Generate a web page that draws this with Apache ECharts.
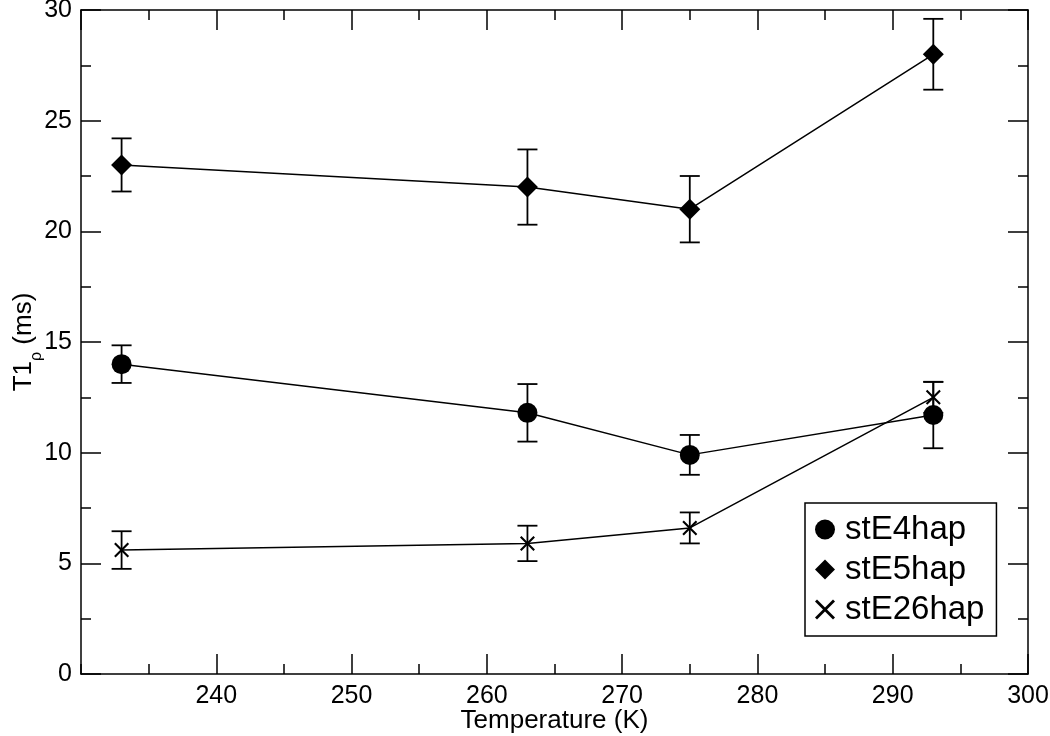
<!DOCTYPE html>
<html>
<head>
<meta charset="utf-8">
<script src="https://cdn.jsdelivr.net/npm/echarts@6/dist/echarts.min.js"></script>
<style>
html,body{margin:0;padding:0;background:#fff;}
#chart{width:1050px;height:736px;}
</style>
</head>
<body>
<div id="chart"></div>
<script>
// ---- data ----
var temperatures = [233, 263, 275, 293];
var seriesNames = ['stE4hap', 'stE5hap', 'stE26hap'];
var stE4hap = [14.0, 11.8, 9.9, 11.7];
var stE4hapErr = [0.85, 1.3, 0.9, 1.5];
var stE5hap = [23.0, 22.0, 21.0, 28.0];
var stE5hapErr = [1.2, 1.7, 1.5, 1.6];
var stE26hap = [5.6, 5.9, 6.6, 12.5];
var stE26hapErr = [0.85, 0.8, 0.7, 0.7];
var xTicks = [240, 250, 260, 270, 280, 290, 300];
var yTicks = [0, 5, 10, 15, 20, 25, 30];

var FONT = 'Liberation Sans, Arial, sans-serif';
var crossPath = 'path://M0,1 L1,0 L5,4 L9,0 L10,1 L6,5 L10,9 L9,10 L5,6 L1,10 L0,9 L4,5 Z';

function pairs(vals) { return temperatures.map(function (t, i) { return [t, vals[i]]; }); }
function errPairs(vals, errs) { return temperatures.map(function (t, i) { return [t, vals[i] - errs[i], vals[i] + errs[i]]; }); }

function errorSeries(vals, errs) {
  return {
    type: 'custom',
    z: 1,
    silent: true,
    data: errPairs(vals, errs),
    renderItem: function (params, api) {
      var lo = api.coord([api.value(0), api.value(1)]);
      var hi = api.coord([api.value(0), api.value(2)]);
      var hw = 10;
      var st = { stroke: '#000', lineWidth: 1.8 };
      return {
        type: 'group',
        children: [
          { type: 'line', shape: { x1: lo[0], y1: lo[1], x2: hi[0], y2: hi[1] }, style: st },
          { type: 'line', shape: { x1: lo[0] - hw, y1: lo[1], x2: lo[0] + hw, y2: lo[1] }, style: st },
          { type: 'line', shape: { x1: hi[0] - hw, y1: hi[1], x2: hi[0] + hw, y2: hi[1] }, style: st }
        ]
      };
    }
  };
}

function lineSeries(name, vals, symbol, size) {
  return {
    name: name,
    type: 'line',
    z: 3,
    data: pairs(vals),
    symbol: symbol,
    symbolSize: size,
    showAllSymbol: true,
    lineStyle: { color: '#000', width: 1.5 },
    itemStyle: { color: '#000' },
    emphasis: { disabled: true },
    animation: false
  };
}

// helper for a tick-only axis (major or minor), all ticks inside
function tickAxis(position, min, max, interval, len, showLine) {
  return {
    type: 'value', position: position, min: min, max: max, interval: interval, offset: 0,
    axisLine: { show: showLine, onZero: false, lineStyle: { color: '#000', width: 1.5 } },
    axisTick: { show: true, inside: true, length: len, lineStyle: { color: '#000', width: 1.5 } },
    minorTick: { show: false },
    axisLabel: { show: false },
    splitLine: { show: false },
    minorSplitLine: { show: false }
  };
}

var xBottom = tickAxis('bottom', 230, 300, 10, 20, true);
xBottom.name = 'Temperature (K)';
xBottom.nameLocation = 'middle';
xBottom.nameGap = 34;
xBottom.nameMoveOverlap = false;
xBottom.nameTextStyle = { fontFamily: FONT, fontSize: 26, color: '#000' };
xBottom.axisLabel = {
  show: true, margin: 10, fontFamily: FONT, fontSize: 25, color: '#000',
  showMinLabel: false,
  formatter: function (v) { return xTicks.indexOf(v) >= 0 ? String(v) : ''; }
};

var yLeft = tickAxis('left', 0, 30, 5, 20, true);
yLeft.name = '{a|T1}{s|ρ}{a| (ms)}';
yLeft.nameLocation = 'middle';
yLeft.nameGap = 44;
yLeft.nameRotate = 90;
yLeft.nameMoveOverlap = false;
yLeft.nameTextStyle = {
  fontFamily: FONT, fontSize: 26, color: '#000',
  rich: {
    a: { fontFamily: FONT, fontSize: 26, color: '#000', verticalAlign: 'bottom', lineHeight: 30 },
    s: { fontFamily: FONT, fontSize: 16, color: '#000', verticalAlign: 'bottom', lineHeight: 30, padding: [0, 0, -8, 0] }
  }
};
yLeft.axisLabel = {
  show: true, margin: 9, fontFamily: FONT, fontSize: 25, color: '#000',
  formatter: function (v) { return yTicks.indexOf(v) >= 0 ? String(v) : ''; }
};

var chart = echarts.init(document.getElementById('chart'), null, { renderer: 'canvas' });
chart.setOption({
  animation: false,
  backgroundColor: '#fff',
  grid: { left: 81, right: 22, top: 10, bottom: 62, containLabel: false, outerBoundsMode: 'none' },
  xAxis: [
    xBottom,
    tickAxis('top', 230, 300, 10, 20, true),
    tickAxis('bottom', 230, 300, 5, 10, false),
    tickAxis('top', 230, 300, 5, 10, false)
  ],
  yAxis: [
    yLeft,
    tickAxis('right', 0, 30, 5, 20, true),
    tickAxis('left', 0, 30, 2.5, 10, false),
    tickAxis('right', 0, 30, 2.5, 10, false)
  ],
  legend: {
    left: 805, top: 503,
    orient: 'vertical',
    padding: [10, 12, 10, 10],
    itemGap: 7,
    itemWidth: 20, itemHeight: 20,
    borderColor: '#000', borderWidth: 1.5,
    backgroundColor: '#fff',
    selectedMode: false,
    textStyle: { fontFamily: FONT, fontSize: 33, color: '#000', padding: [0, 0, 0, 5] },
    data: [
      { name: seriesNames[0], icon: 'circle' },
      { name: seriesNames[1], icon: 'diamond' },
      { name: seriesNames[2], icon: crossPath, itemStyle: { color: '#000' } }
    ]
  },
  series: [
    errorSeries(stE5hap, stE5hapErr),
    errorSeries(stE4hap, stE4hapErr),
    errorSeries(stE26hap, stE26hapErr),
    lineSeries(seriesNames[0], stE4hap, 'circle', 20),
    lineSeries(seriesNames[1], stE5hap, 'diamond', 21),
    lineSeries(seriesNames[2], stE26hap, crossPath, 15)
  ]
});
</script>
</body>
</html>
